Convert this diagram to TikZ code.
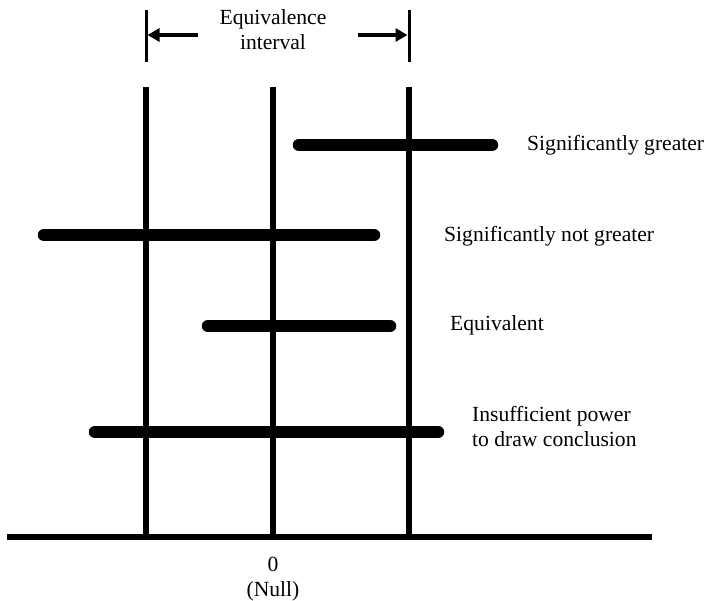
\documentclass[tikz,border=0pt]{standalone}
\usepackage{fontspec}
\setmainfont{Liberation Serif}
\usetikzlibrary{arrows.meta}
\begin{document}
\begin{tikzpicture}[x=1pt,y=-1pt,
  lbl/.style={font=\fontsize{21.6}{25}\selectfont, inner sep=0pt},
  refline/.style={line width=5.5pt},
  bar/.style={line width=12.5pt, line cap=round},
  marker/.style={line width=3pt},
  arr/.style={line width=3.5pt, -{Triangle[length=12pt,width=13pt]}},
  axisline/.style={line width=6.5pt}]
\useasboundingbox (0,0) rectangle (705,601);
% coordinates
\coordinate (mLt) at (146,10);  \coordinate (mLb) at (146,62);
\coordinate (mRt) at (409,10);  \coordinate (mRb) at (409,62);
\coordinate (aLs) at (198,35);  \coordinate (aLe) at (147.5,35);
\coordinate (aRs) at (358,35);  \coordinate (aRe) at (407.5,35);
\coordinate (vLt) at (146,87);  \coordinate (vLb) at (146,537);
\coordinate (vMt) at (273,87);  \coordinate (vMb) at (273,537);
\coordinate (vRt) at (409,87);  \coordinate (vRb) at (409,537);
\coordinate (axL) at (7,537);   \coordinate (axR) at (652,537);
\coordinate (b1a) at (299,145); \coordinate (b1b) at (492,145);
\coordinate (b2a) at (44,235);  \coordinate (b2b) at (374,235);
\coordinate (b3a) at (208,326); \coordinate (b3b) at (390,326);
\coordinate (b4a) at (95,432);  \coordinate (b4b) at (438,432);
% equivalence interval markers
\draw[marker] (mLt) -- (mLb);
\draw[marker] (mRt) -- (mRb);
\draw[arr] (aLs) -- (aLe);
\draw[arr] (aRs) -- (aRe);
\node[lbl, align=center, anchor=base] (eq) at (273,50) {Equivalence\\interval};
% reference lines
\draw[refline] (vLt) -- (vLb);
\draw[refline] (vMt) -- (vMb);
\draw[refline] (vRt) -- (vRb);
\draw[axisline] (axL) -- (axR);
% interval bars
\draw[bar] (b1a) -- (b1b);
\draw[bar] (b2a) -- (b2b);
\draw[bar] (b3a) -- (b3b);
\draw[bar] (b4a) -- (b4b);
% labels
\node[lbl, anchor=base west] (l1) at (527,151) {Significantly greater};
\node[lbl, anchor=base west] (l2) at (444,241.7) {Significantly not greater};
\node[lbl, anchor=base west] (l3) at (450,331) {Equivalent};
\node[lbl, anchor=base west, align=left] (l4) at (472,446.7) {Insufficient power\\to draw conclusion};
\node[lbl, anchor=base, align=center] (zero) at (273,596.7) {0\\(Null)};
\end{tikzpicture}
\end{document}
